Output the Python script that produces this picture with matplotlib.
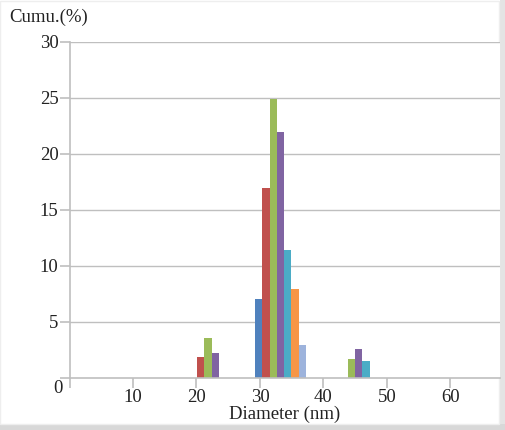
import matplotlib.pyplot as plt
from matplotlib.patches import Rectangle

## bar data (left edge in nm, height in %)
series_colors = ['#4F81BD', '#C0504D', '#9BBB59', '#8064A2', '#4BACC6', '#F79646', '#9DB3DC']
bar_width = 1.15

lefts_20 = [20.1, 21.25, 22.4]
heights_20 = [1.85, 3.6, 2.25]
series_20 = [1, 2, 3]

lefts_30 = [29.2, 30.35, 31.5, 32.65, 33.8, 34.95, 36.1]
heights_30 = [7.0, 16.9, 24.9, 21.9, 11.4, 7.9, 2.95]
series_30 = [0, 1, 2, 3, 4, 5, 6]

lefts_45 = [43.8, 44.95, 46.1]
heights_45 = [1.7, 2.6, 1.55]
series_45 = [2, 3, 4]

xticks = [0, 10, 20, 30, 40, 50, 60]
xticklabels = ['', '10', '20', '30', '40', '50', '60']
yticks = [0, 5, 10, 15, 20, 25, 30]

plt.rcParams['font.family'] = ['Liberation Serif', 'DejaVu Serif']

fig = plt.figure(figsize=(5.06, 4.30), dpi=100)
ax = fig.add_axes([69.5 / 506, 1 - 378 / 430, (500 - 69.5) / 506, (378 - 41.5) / 430])

grid_col = '#BFBFBF'
txt_col = '#222222'
fs = 13.5
for y in yticks[1:]:
	ax.axhline(y, color=grid_col, lw=1.0, zorder=0)

for lefts, heights, series in [(lefts_20, heights_20, series_20),
                               (lefts_30, heights_30, series_30),
                               (lefts_45, heights_45, series_45)]:
	ax.bar(lefts, heights, width=bar_width, align='edge',
	       color=[series_colors[s] for s in series], lw=0, zorder=2)

ax.set_xlim(0, 67.8)
ax.set_ylim(0, 30)
for side in ['top', 'right']:
	ax.spines[side].set_visible(False)
ax.spines['left'].set_color(grid_col)
ax.spines['bottom'].set_color(grid_col)
ax.spines['left'].set_linewidth(1.2)
ax.spines['bottom'].set_linewidth(1.2)

ax.set_xticks(xticks)
ax.set_xticklabels(xticklabels)
ax.set_yticks(yticks)
ax.set_yticklabels([''] + [str(v) for v in yticks[1:]])
ax.tick_params(axis='both', colors=grid_col, labelcolor=txt_col, labelsize=fs, length=7, width=1.2)
ax.tick_params(axis='y', pad=1)
ax.tick_params(axis='x', pad=1)

ax.text(-0.017, -0.006, '0', transform=ax.transAxes, ha='right', va='top', fontsize=fs, color=txt_col)
ax.set_xlabel('Diameter (nm)', fontsize=fs, color=txt_col, labelpad=0)
fig.text(9 / 506, 1 - 17 / 430, 'Cumu.(%)', ha='left', va='center', fontsize=fs, color=txt_col)

# frame with a soft shadow like the pasted figure
fig.patches.append(Rectangle((500 / 506, 0), 6 / 506, 1, transform=fig.transFigure,
                             color='#E4E4E4', lw=0, zorder=-1))
fig.patches.append(Rectangle((0, 0), 1, 6 / 430, transform=fig.transFigure,
                             color='#D8D8D8', lw=0, zorder=-1))
fig.patches.append(Rectangle((0.5 / 506, 6 / 430), 499 / 506, 423.5 / 430, transform=fig.transFigure,
                             fill=False, ec='#EEEEEE', lw=1, zorder=-1))

fig.savefig('out.png', dpi=100)
